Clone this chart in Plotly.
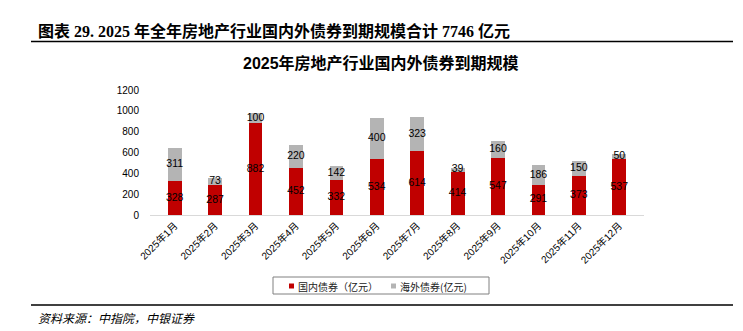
import plotly.graph_objects as go

months = ["2025年1月", "2025年2月", "2025年3月", "2025年4月", "2025年5月", "2025年6月",
          "2025年7月", "2025年8月", "2025年9月", "2025年10月", "2025年11月", "2025年12月"]
domestic = [328, 287, 882, 452, 332, 534, 614, 414, 547, 291, 373, 537]
overseas = [311, 73, 100, 220, 142, 400, 323, 39, 160, 186, 150, 50]
y_ticks = [0, 200, 400, 600, 800, 1000, 1200]

RED = "#C00000"
GRAY = "#B4B4B4"
SANS = "Liberation Sans, Arial, Noto Sans CJK SC"
CJK = "Noto Sans CJK SC"
SERIF = "Liberation Serif, Noto Sans CJK SC"

# plot area geometry (pixels)
W, H = 743, 331
L, R, T, B = 150, 644, 90, 215
PW, PH = R - L, B - T

def px(x):
    return (x - L) / PW

def py(y):
    return (B - y) / PH

fig = go.Figure()
fig.add_trace(go.Bar(x=months, y=domestic, name="国内债券（亿元）",
                     marker=dict(color=RED, line=dict(width=0)), showlegend=False,
                     hoverinfo="y"))
fig.add_trace(go.Bar(x=months, y=overseas, name="海外债券(亿元)",
                     marker=dict(color=GRAY, line=dict(width=0)), showlegend=False,
                     hoverinfo="y"))

# data labels centred in each segment
dom_mid = [d / 2 for d in domestic]
ovs_mid = [d + o / 2 for d, o in zip(domestic, overseas)]
fig.add_trace(go.Scatter(x=months, y=dom_mid, mode="text", text=[str(v) for v in domestic],
                         textfont=dict(family=SANS, size=10.5, color="#000000"),
                         showlegend=False, hoverinfo="skip"))
fig.add_trace(go.Scatter(x=months, y=ovs_mid, mode="text", text=[str(v) for v in overseas],
                         textfont=dict(family=SANS, size=10.5, color="#000000"),
                         showlegend=False, hoverinfo="skip"))

annotations = [
    dict(text="<b>图表 29. 2025 年全年房地产行业国内外债券到期规模合计 7746 亿元</b>",
         x=px(36), y=py(31), xref="paper", yref="paper", xanchor="left", yanchor="middle",
         showarrow=False, font=dict(family=SERIF, size=16, color="#000000")),
    dict(text="<b>2025年房地产行业国内外债券到期规模</b>",
         x=px(381), y=py(63), xref="paper", yref="paper", xanchor="center", yanchor="middle",
         showarrow=False, font=dict(family=SANS, size=16, color="#000000")),
    dict(text="<i>资料来源：中指院，中银证券</i>",
         x=px(36), y=py(317), xref="paper", yref="paper", xanchor="left", yanchor="middle",
         showarrow=False, font=dict(family=CJK, size=12, color="#000000")),
    dict(text="国内债券（亿元）",
         x=px(296), y=py(286), xref="paper", yref="paper", xanchor="left", yanchor="middle",
         showarrow=False, font=dict(family=CJK, size=10, color="#222222")),
    dict(text="海外债券(亿元)",
         x=px(398), y=py(286), xref="paper", yref="paper", xanchor="left", yanchor="middle",
         showarrow=False, font=dict(family=CJK, size=10, color="#222222")),
]

shapes = [
    dict(type="line", xref="paper", yref="paper", x0=px(31), x1=px(733), y0=py(41.5), y1=py(41.5),
         line=dict(color="#000000", width=1.3)),
    dict(type="line", xref="paper", yref="paper", x0=px(31), x1=px(733), y0=py(305), y1=py(305),
         line=dict(color="#000000", width=1.3)),
    dict(type="rect", xref="paper", yref="paper", x0=px(273), x1=px(489), y0=py(277), y1=py(294),
         line=dict(color="#808080", width=1), fillcolor="rgba(0,0,0,0)"),
    dict(type="rect", xref="paper", yref="paper", x0=px(289), x1=px(294), y0=py(283.5), y1=py(288.5),
         line=dict(width=0), fillcolor=RED),
    dict(type="rect", xref="paper", yref="paper", x0=px(391), x1=px(396), y0=py(283.5), y1=py(288.5),
         line=dict(width=0), fillcolor=GRAY),
]

fig.update_layout(
    width=W, height=H,
    margin=dict(l=L, r=W - R, t=T, b=H - B, pad=0),
    paper_bgcolor="white", plot_bgcolor="white",
    barmode="stack", bargap=0.66,
    showlegend=False,
    annotations=annotations, shapes=shapes,
    xaxis=dict(type="category", tickangle=-45, showgrid=False, zeroline=False,
               showline=True, linecolor="#D9D9D9", linewidth=1, ticks="",
               tickfont=dict(family=SANS, size=10, color="#000000")),
    yaxis=dict(range=[0, 1200], tickvals=y_ticks, showgrid=False, zeroline=False,
               showline=False, ticks="", ticklabelstandoff=10,
               tickfont=dict(family=SANS, size=10, color="#000000")),
)

fig.write_html("out.html")
